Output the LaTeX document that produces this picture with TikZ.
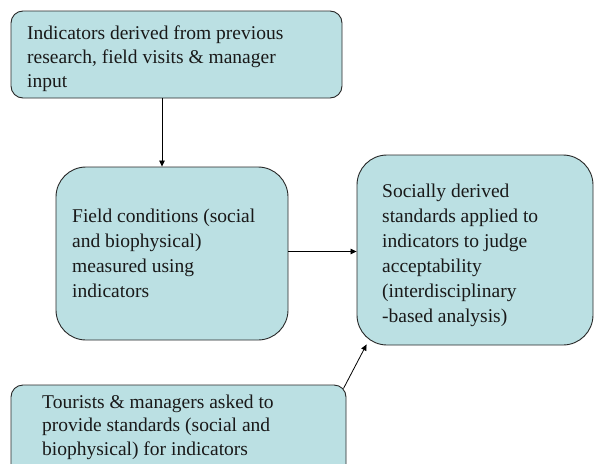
\documentclass[tikz,border=0pt]{standalone}
\usepackage{fontspec}
\setmainfont{Liberation Serif}
\usetikzlibrary{arrows.meta,calc}
\definecolor{boxfill}{RGB}{187,224,227}
\definecolor{boxline}{RGB}{40,40,40}
\tikzset{
  box/.style={draw=boxline, line width=0.9pt, fill=boxfill, rectangle, inner sep=0pt},
  lbl/.style={anchor=base west, align=left, inner sep=0pt,
    font=\fontsize{19.5}{#1}\selectfont, text=black!90},
  lbl/.default=24,
  arr/.style={draw=black, line width=0.8pt, -{Triangle[length=6pt,width=5.5pt]}}
}
\begin{document}
\begin{tikzpicture}[x=1pt,y=-1pt]
\useasboundingbox (0,0) rectangle (594,463);
\node[box, rounded corners=12pt, minimum width=331pt, minimum height=87pt] (b1) at (176.5,54.5) {};
\node[box, rounded corners=30pt, minimum width=232pt, minimum height=173pt] (b2) at (172,253.5) {};
\node[box, rounded corners=30pt, minimum width=236pt, minimum height=190pt] (b3) at (475,250) {};
\node[box, rounded corners=12pt, minimum width=335pt, minimum height=100pt] (b4) at (178.5,435) {};
\node[lbl=24] (t1) at (27,87) {Indicators derived from previous\\research, field visits \& manager\\input};
\node[lbl=24.7] (t2) at (72,297) {Field conditions (social\\and biophysical)\\measured using\\indicators};
\node[lbl=25] (t3) at (382,322) {Socially derived\\standards applied to\\indicators to judge\\acceptability\\(interdisciplinary\\-based analysis)};
\node[lbl=23.5] (t4) at (42,455) {Tourists \& managers asked to\\provide standards (social and\\biophysical) for indicators};
\draw[arr] ([xshift=-14.5pt]b1.south) -- ([xshift=-10pt]b2.north);
\draw[arr] ([yshift=2pt]b2.east) -- ([yshift=2pt]b2.east -| b3.west);
\draw[arr] ($(b4.north east)+(-3,4)$) -- ($(b3.south west)+(10,-1)$);
\end{tikzpicture}
\end{document}
